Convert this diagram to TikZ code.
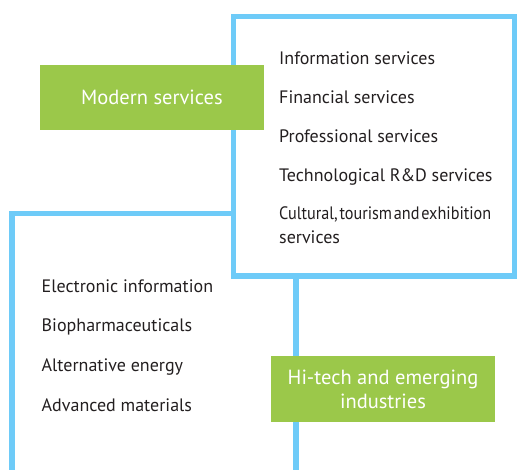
\documentclass[tikz,border=0pt]{standalone}
\usepackage{fontspec}
\setmainfont{PT Sans}
\usepackage{tikz}
\usetikzlibrary{positioning}
\usepackage{xcolor}
\definecolor{frameblue}{RGB}{110,203,248}
\definecolor{taggreen}{RGB}{155,200,74}
\definecolor{itemgrey}{RGB}{35,31,32}

\begin{document}
\begin{tikzpicture}[%
        x=1pt, y=-1pt,              % image-like coordinates, y downwards
        font=\fontsize{18}{24}\selectfont,
    ]
    \tikzset{
        frame/.style={draw=frameblue, line width=5.5pt},
        tag/.style={fill=taggreen, text=white, align=center,
            font=\fontsize{20.5}{24}\selectfont,
            minimum width=224pt, minimum height=65pt, inner sep=0pt},
        item/.style={anchor=base west, inner sep=0pt, text=itemgrey, align=left}
    }
    \useasboundingbox (0,0) rectangle (517,470);
    %%% Frames
    \draw [frame] (12,470) |- (296,213.5) -- (296,470);
    \draw [frame, fill=white] (233.5,16.5) rectangle (514.5,276);
    %%% Modern services
    \node [item] (info) at (279,65) {Information services};
    \node [item] (fin) at (279,104) {Financial services};
    \node [item] (prof) at (279,143) {Professional services};
    \node [item] (tech) at (279,182) {Technological R\&D services};
    % last line sits on the base anchor
    \node [item] (cult) at (279,244) {%
        \scalebox{0.9}[1]{\spaceskip=2pt Cultural, tourism and exhibition}\\services};
    %%% Hi-tech industries
    \node [item] (elec) at (41.5,293) {Electronic information};
    \node [item] (bio) at (41.5,332) {Biopharmaceuticals};
    \node [item] (alt) at (41.5,372) {Alternative energy};
    \node [item] (adv) at (41.5,411) {Advanced materials};
    %%% Tags
    \node [tag] (modern) at (152,97.5) {Modern services};
    \node [tag] (hitech) at (383,389) {Hi-tech and emerging\\industries};
\end{tikzpicture}
\end{document}
